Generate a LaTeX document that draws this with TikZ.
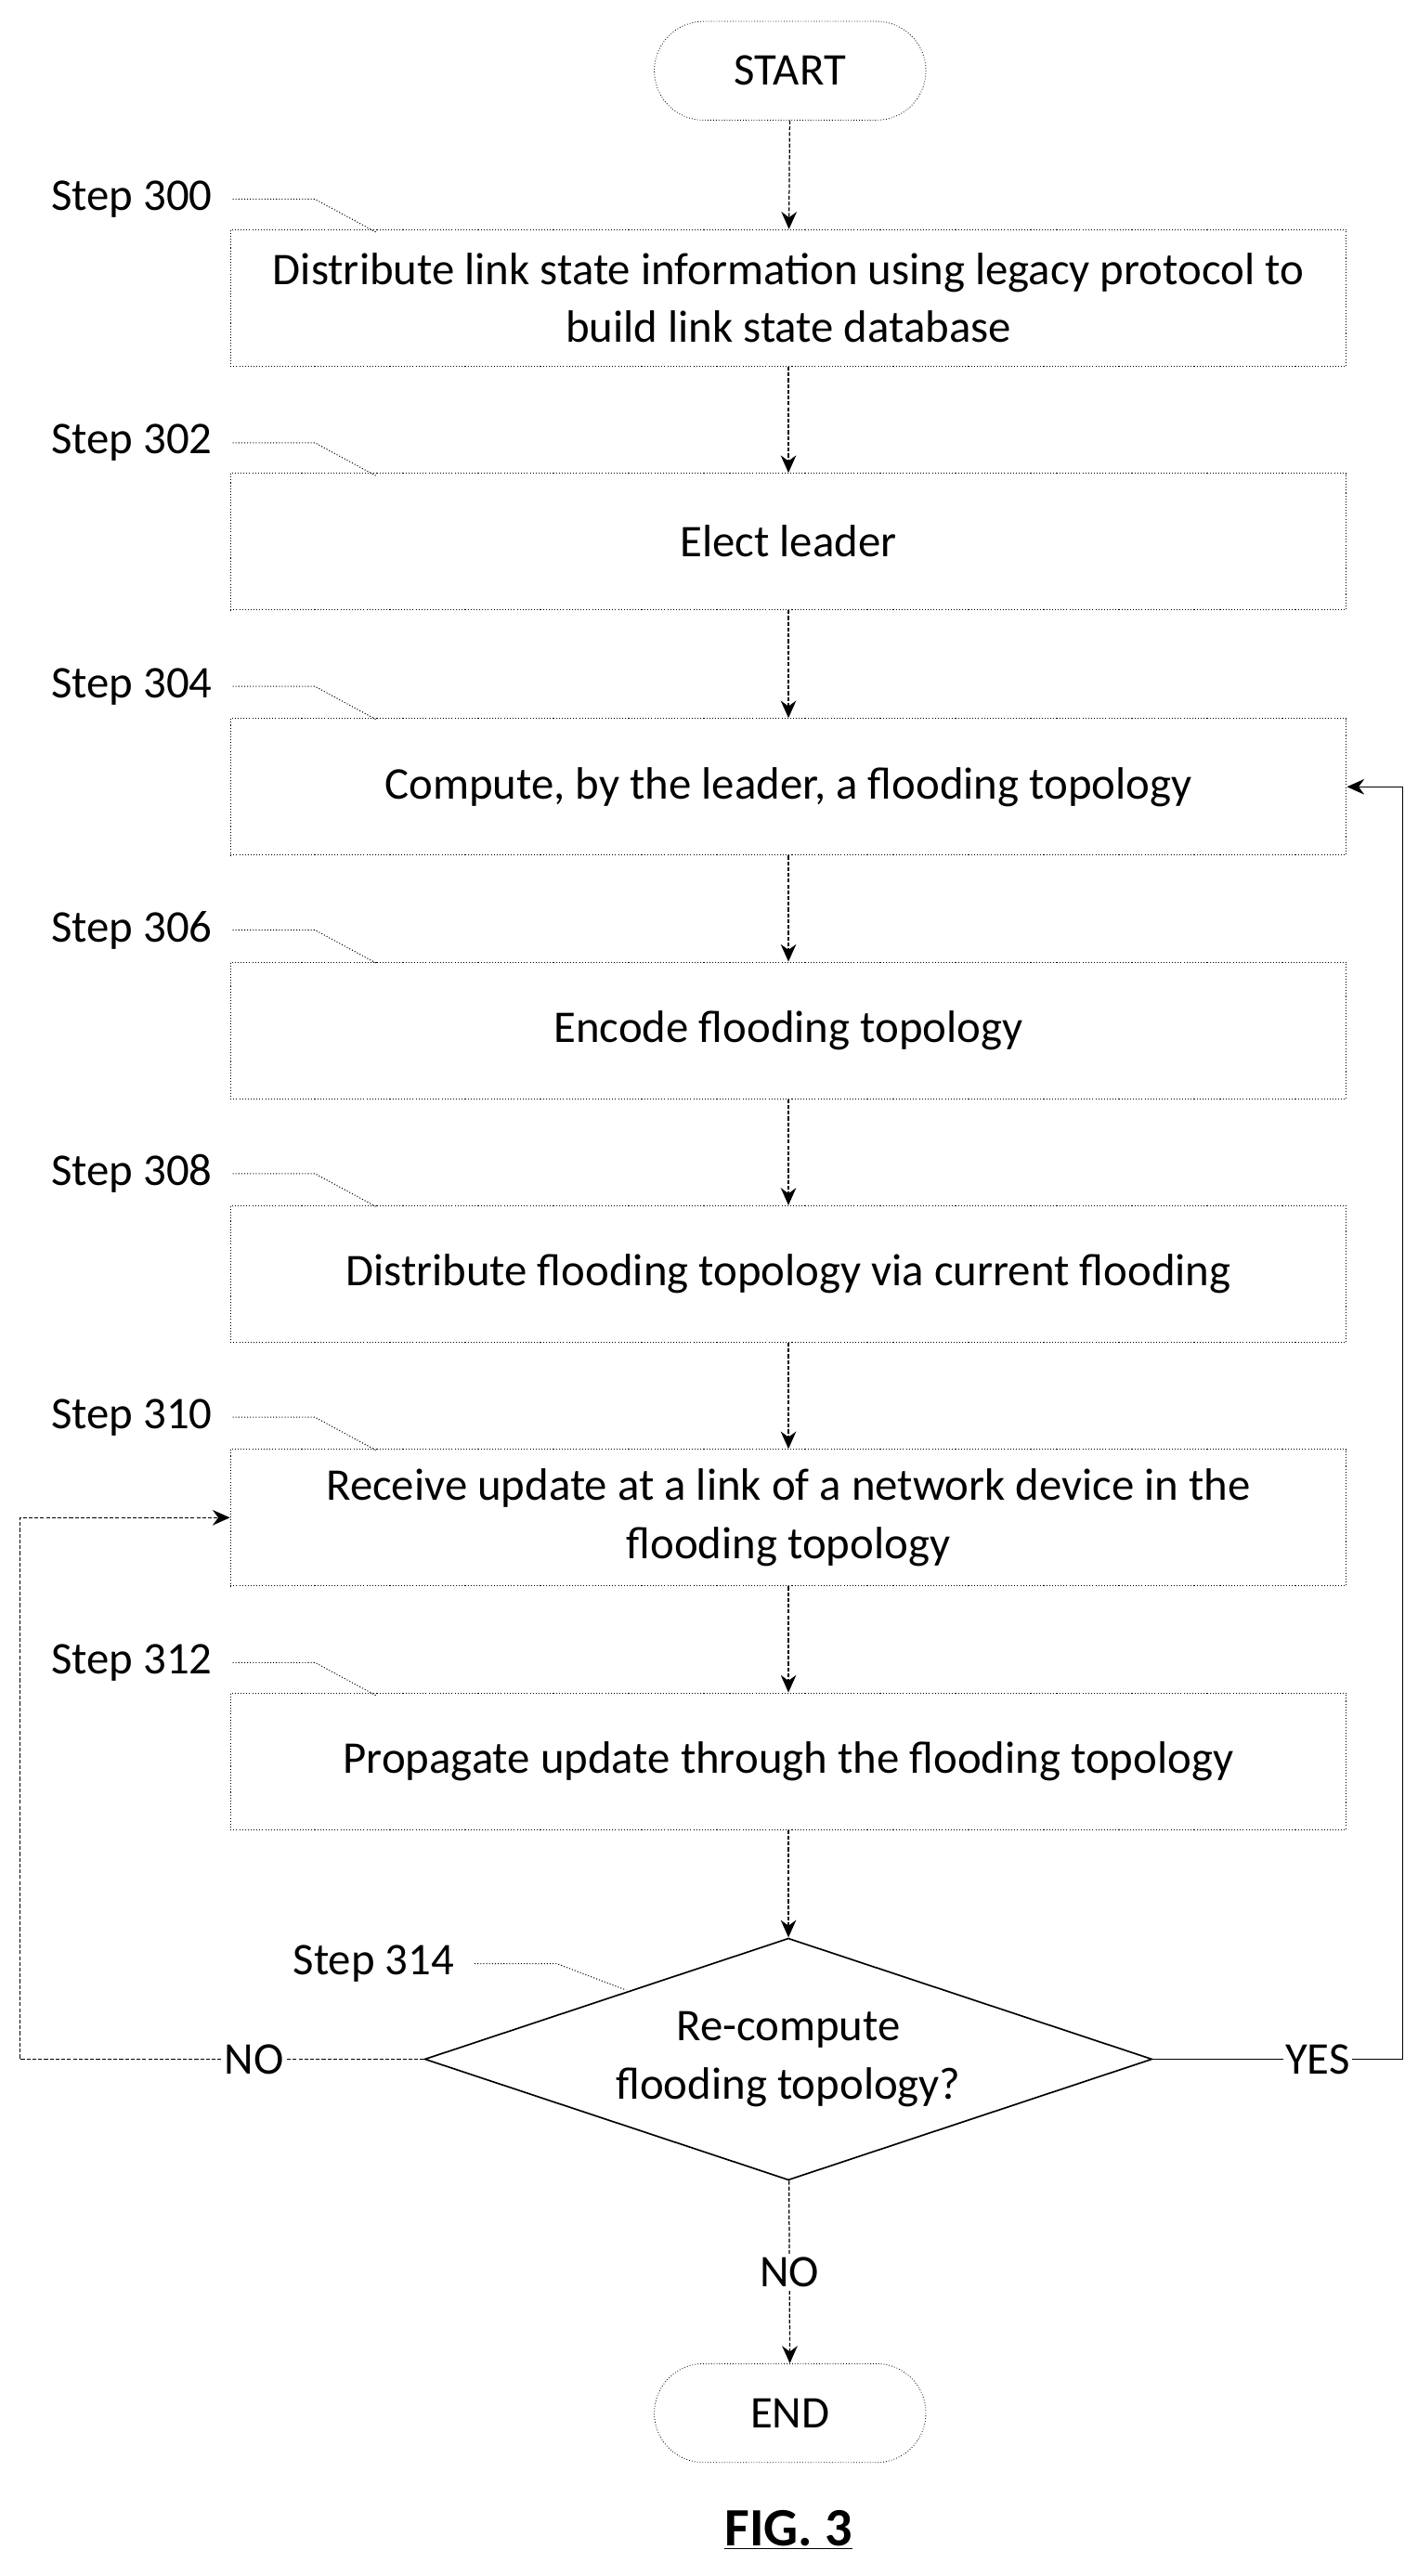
\documentclass[tikz,border=0pt]{standalone}
\usepackage{fontspec}
\setmainfont{Carlito}
\usetikzlibrary{shapes,arrows.meta}

\begin{document}
\begin{tikzpicture}[x=0.03cm,y=-0.03cm]
\useasboundingbox (0,0) rectangle (861,1565);

\tikzstyle{stepbox}=[draw,densely dotted,line width=0.5pt,minimum width=678*0.03cm,minimum height=83*0.03cm,align=center]
\tikzstyle{terminal}=[draw,densely dotted,rounded corners=30*0.03cm,minimum width=165*0.03cm,minimum height=60*0.03cm]
\tikzstyle{decision}=[diamond,draw,thick,aspect=3,minimum width=442*0.03cm,minimum height=147*0.03cm,inner sep=0pt,align=center]
\tikzstyle{flow}=[->,>={Stealth[length=9pt,width=8pt]},dashed,dash pattern=on 2pt off 1pt,line width=0.6pt]
\tikzstyle{loop}=[->,>={Stealth[length=9pt,width=8pt]},line width=0.6pt]
\tikzstyle{leader}=[densely dotted,line width=0.5pt]

\fontsize{23.5}{30}\selectfont

%% Flow nodes
\node [terminal] (start) at (480,43) {START};
\node [stepbox] (s300) at (479,181) {Distribute link state information using legacy protocol to\\build link state database};
\node [stepbox] (s302) at (479,329) {Elect leader};
\node [stepbox] (s304) at (479,478) {Compute, by the leader, a flooding topology};
\node [stepbox] (s306) at (479,626) {Encode flooding topology};
\node [stepbox] (s308) at (479,774) {Distribute flooding topology via current flooding};
\node [stepbox] (s310) at (479,922) {Receive update at a link of a network device in the\\flooding topology};
\node [stepbox] (s312) at (479,1070) {Propagate update through the flooding topology};
\node [decision] (s314) at (479,1251) {Re-compute\\flooding topology?};
\node [terminal] (end) at (480,1466) {END};
\node (fig) at (479,1537) {\fontsize{28}{32}\selectfont\bfseries\underline{FIG. 3}};

%% Step labels
\foreach \n/\y in {300/121,302/269,304/417,306/565,308/713,310/861,312/1010}{
  \node (l\n) at (80,\y) {Step \n};
  \draw[leader] (l\n.east) ++(3,0) -- ++(50,0) -- ++(37,20);
}
\node (l314) at (227,1193) {Step 314};
\draw[leader] (l314.east) ++(3,0) -- ++(50,0) -- ++(42,16);

%% Connectors
\draw[flow] (start) -- (s300);
\draw[flow] (s300) -- (s302);
\draw[flow] (s302) -- (s304);
\draw[flow] (s304) -- (s306);
\draw[flow] (s306) -- (s308);
\draw[flow] (s308) -- (s310);
\draw[flow] (s310) -- (s312);
\draw[flow] (s312) -- (s314);
\draw[flow] (s314) -- node[fill=white,inner sep=2pt] {NO} (end);

\coordinate (yesc) at (852,1251);
\coordinate (noc) at (12,1251);
\draw[loop] (s314.east) -- node[pos=0.66,fill=white,inner sep=1pt] {YES} (yesc) |- (s304.east);
\draw[flow] (s314.west) -- node[pos=0.42,fill=white,inner sep=1pt] {NO} (noc) |- (s310.west);
\end{tikzpicture}
\end{document}
